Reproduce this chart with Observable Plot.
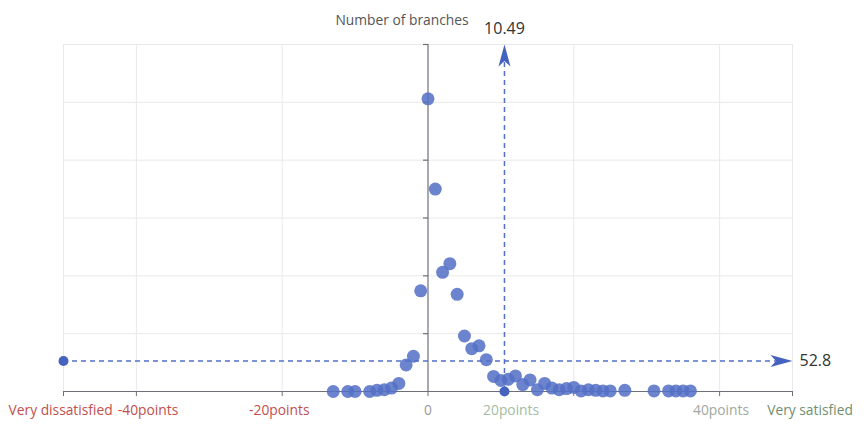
<!DOCTYPE html>
<html><head><meta charset="utf-8">
<script src="https://cdn.jsdelivr.net/npm/d3@7"></script>
<script src="https://cdn.jsdelivr.net/npm/@observablehq/plot@0.6"></script>
<style>body{margin:0;background:#fff;}</style>
</head><body><div id="chart"></div>
<script>
// satisfaction score (points) of each group
const scores   = [-13,-11,-10,-8,-7,-6,-5,-4,-3,-2,-1,0,1,2,3,4,5,6,7,8,9,10,11,12,13,14,15,16,17,18,19,20,21,22,23,24,25,27,31,33,34,35,36];
// number of branches with that score
const branches = [0,0,0,0,2,3,6,14,46,61,174,506,350,206,221,168,96,74,79,55,26,19,21,27,12,20,3,14,6,3,5,7,1,3,2,1,1,2,1,1,1,1,1];
const avgScore = 10.49;
const avgBranches = 52.8;
const xDomain = [-50, 50];
const yDomain = [0, 600];
const xTickValues = [-50, -40, -20, 0, 20, 40, 50];
const xGridValues = [-50, -40, -20, 20, 40, 50];
const yTickValues = [100, 200, 300, 400, 500, 600];
const xLabelText = ["Very dissatisfied", "-40points", "-20points", "0", "20points", "40points", "Very satisfied"];
const xLabelAt   = [-50.4, -38.4, -20.4, 0, 11.4, 40.2, 52.4];
const yTitle = "Number of branches";

const labelColors = ["#c0504d", "#c0504d", "#c0504d", "#999999", "#a3bba3", "#a0a8a0", "#6f8f6f"];

const points = scores.map((s, i) => ({score: s, count: branches[i]}));
const xLabels = xLabelText.map((t, i) => ({text: t, at: xLabelAt[i], color: labelColors[i]}));

const L = 22, W = 12, N = 16.5;
const arrowRight = {draw(c) { c.moveTo(0,0); c.lineTo(-L,-W/2); c.lineTo(-N,0); c.lineTo(-L,W/2); c.closePath(); }};
const arrowUp = {draw(c) { c.moveTo(0,0); c.lineTo(-W/2,L); c.lineTo(0,N); c.lineTo(W/2,L); c.closePath(); }};
const tickLeft = {draw(c) { c.moveTo(-5,0); c.lineTo(0,0); }};

const blue = "#5470c6";
const axisColor = "#6e7079";
const gridColor = "#e9e9e9";

const chart = Plot.plot({
  width: 864,
  height: 432,
  marginLeft: 63,
  marginRight: 72,
  marginTop: 44,
  marginBottom: 41,
  style: {fontFamily: "'Open Sans', sans-serif", background: "#fff", overflow: "visible"},
  x: {domain: xDomain, axis: null},
  y: {domain: yDomain, axis: null},
  marks: [
    Plot.gridX(xGridValues, {stroke: gridColor, strokeOpacity: 1}),
    Plot.gridY(yTickValues, {stroke: gridColor, strokeOpacity: 1}),
    Plot.axisX({ticks: xTickValues, tickSize: 5, tickFormat: () => "", color: axisColor, label: null}),
    Plot.ruleY([0], {stroke: axisColor, strokeWidth: 1.2}),
    Plot.ruleX([0], {stroke: axisColor, strokeWidth: 1.2}),
    Plot.dot(yTickValues, {x: () => 0, y: d => d, symbol: tickLeft, stroke: axisColor, fill: "none", strokeWidth: 1.2}),
    Plot.ruleY([avgBranches], {x1: xDomain[0], x2: xDomain[1] - 2, stroke: blue, strokeWidth: 1.5, strokeDasharray: "5,4"}),
    Plot.ruleX([avgScore], {y1: 0, y2: yDomain[1] - 20, stroke: blue, strokeWidth: 1.5, strokeDasharray: "5,4"}),
    Plot.dot(points, {x: "score", y: "count", r: 6.5, fill: blue, fillOpacity: 0.86}),
    Plot.dot([[xDomain[0], avgBranches], [avgScore, 0]], {x: d => d[0], y: d => d[1], r: 5, fill: "#4562bf"}),
    Plot.dot([[xDomain[1], avgBranches]], {x: d => d[0], y: d => d[1], symbol: arrowRight, fill: "#4562bf", stroke: "none"}),
    Plot.dot([[avgScore, yDomain[1]]], {x: d => d[0], y: d => d[1], symbol: arrowUp, fill: "#4562bf", stroke: "none"}),
    Plot.text([avgBranches], {x: xDomain[1], y: d => d, text: d => String(d), dx: 7, textAnchor: "start", fontSize: 16, fill: "#333"}),
    Plot.text([avgScore], {x: d => d, y: yDomain[1], text: d => String(d), dy: -16, fontSize: 16, fill: "#333"}),
    Plot.text([yTitle], {x: 0, y: yDomain[1], text: d => d, dx: -26, dy: -24, fontSize: 13.8, fill: "#555"}),
    Plot.text(xLabels, {x: "at", y: () => 0, text: "text", fill: "color", dy: 19, fontSize: 13.8})
  ]
});
document.getElementById("chart").appendChild(chart);
</script>
</body></html>
